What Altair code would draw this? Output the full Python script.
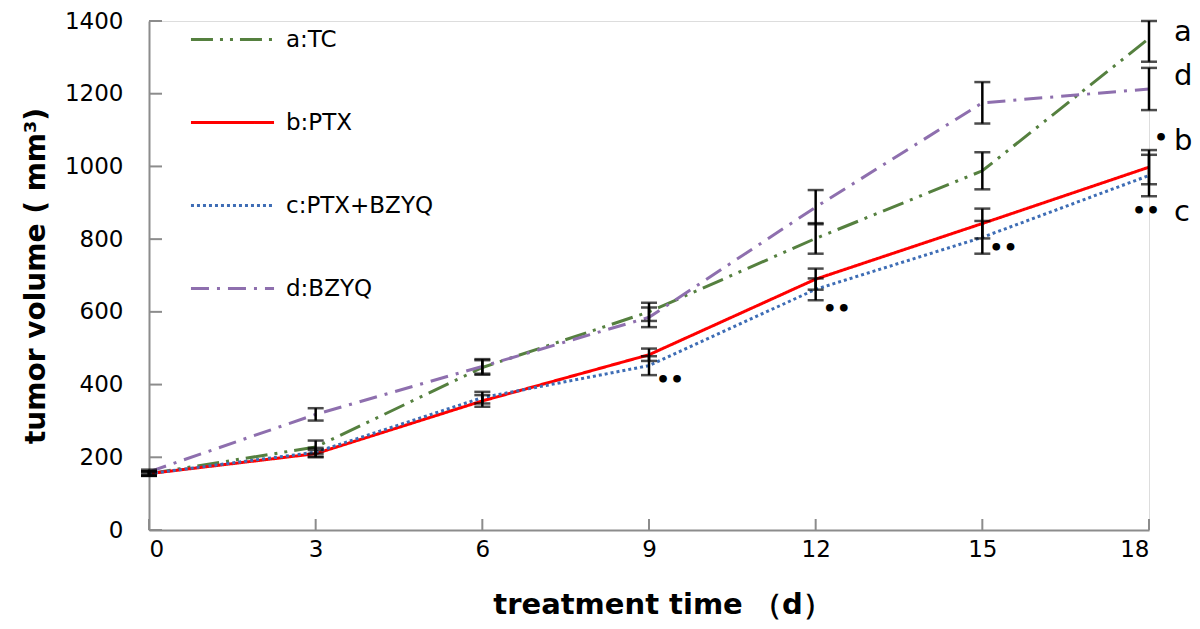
import altair as alt
import pandas as pd

days = [0, 3, 6, 9, 12, 15, 18]
series_names = ["a:TC", "b:PTX", "c:PTX+BZYQ", "d:BZYQ"]
tc_mean = [155, 228, 447, 600, 802, 988, 1352]
tc_err = [6, 18, 20, 25, 42, 51, 64]
ptx_mean = [155, 210, 355, 482, 690, 843, 998]
ptx_err = [6, 10, 16, 17, 29, 41, 47]
combo_mean = [155, 214, 364, 452, 662, 805, 975]
combo_err = [6, 12, 16, 26, 30, 45, 57]
bzyq_mean = [160, 318, 450, 585, 888, 1175, 1213]
bzyq_err = [6, 17, 20, 27, 47, 57, 58]

colors = ["#55803F", "#FF0000", "#3E6DB5", "#8E6FAE"]
dashes = [[22, 7, 3, 7, 3, 7], [1, 0], [3, 3], [18, 8, 3, 8]]

# significance marks (beside points, and centred at the last day) and end labels
sig_day = [9, 12, 15]
sig_val = [412, 609, 776]
sig_txt = ["••", "••", "••"]
sig_end_val = [877, 1077]
sig_end_txt = ["••", "•"]
sig_end_shift = [0, 12]
end_txt = ["a", "d", "b", "c"]
end_val = [1370, 1250, 1071, 875]

y_ticks = [0, 200, 400, 600, 800, 1000, 1200, 1400]
x_ticks = [0, 3, 6, 9, 12, 15, 18]

rows = []
for name, m, e in zip(series_names, [tc_mean, ptx_mean, combo_mean, bzyq_mean],
                      [tc_err, ptx_err, combo_err, bzyq_err]):
    for d, v, er in zip(days, m, e):
        rows.append({"day": d, "vol": v, "lo": v - er, "hi": min(v + er, 1400), "series": name})
df = pd.DataFrame(rows)

FONT = "DejaVu Sans"
W, H = 1000, 509

xs = alt.Scale(domain=[0, 18], nice=False)
ys = alt.Scale(domain=[0, 1400], nice=False)

base = alt.Chart(df)

leg = alt.Legend(title=None, orient="none", legendX=40, legendY=-25,
                 symbolType="stroke", symbolSize=6900, symbolStrokeWidth=3,
                 labelFont=FONT, labelFontSize=23, labelColor="black",
                 labelOffset=10, rowPadding=27, padding=0)

lines = base.mark_line(strokeWidth=3).encode(
    x=alt.X("day:Q", scale=xs, axis=alt.Axis(
        values=x_ticks, title="treatment time （d）", grid=False, ticks=False, tickSize=0,
        domainColor="#8C8C8C", domainWidth=2, labelFont=FONT, labelFontSize=23,
        labelColor="black", labelPadding=8, titleFont=FONT, titleFontSize=29,
        titleFontWeight="bold", titlePadding=29, titleColor="black", titleX=513)),
    y=alt.Y("vol:Q", scale=ys, axis=alt.Axis(
        values=y_ticks, format="d", title="tumor volume ( mm³)", grid=False, ticks=False,
        tickSize=0, domainColor="#8C8C8C", domainWidth=2, labelFont=FONT, labelFontSize=23,
        labelColor="black", labelPadding=26, titleFont=FONT, titleFontSize=28,
        titleFontWeight="bold", titlePadding=14, titleColor="black")),
    color=alt.Color("series:N", scale=alt.Scale(domain=series_names, range=colors), legend=leg),
    strokeDash=alt.StrokeDash("series:N", scale=alt.Scale(domain=series_names, range=dashes),
                              legend=leg),
    order=alt.Order("day:Q"),
)

bars = base.mark_rule(color="black", strokeWidth=2.5).encode(
    x="day:Q", y="lo:Q", y2="hi:Q")
cap_lo = base.mark_tick(color="black", orient="horizontal", size=16, thickness=2.5).encode(
    x="day:Q", y="lo:Q")
cap_hi = base.mark_tick(color="black", orient="horizontal", size=16, thickness=2.5).encode(
    x="day:Q", y="hi:Q")

sig_df = pd.DataFrame({"day": sig_day, "vol": sig_val, "txt": sig_txt})
sig = alt.Chart(sig_df).mark_text(font=FONT, fontSize=22, fontWeight="bold", align="left",
                                  dx=7, baseline="middle", color="black").encode(
    x="day:Q", y="vol:Q", text="txt:N")

sig_end_c = alt.Chart(pd.DataFrame({"day": [18], "vol": [sig_end_val[0]], "txt": [sig_end_txt[0]]})
                      ).mark_text(font=FONT, fontSize=22, fontWeight="bold", align="center",
                                  dx=sig_end_shift[0] - 3, baseline="middle", color="black").encode(
    x="day:Q", y="vol:Q", text="txt:N")
sig_end_b = alt.Chart(pd.DataFrame({"day": [18], "vol": [sig_end_val[1]], "txt": [sig_end_txt[1]]})
                      ).mark_text(font=FONT, fontSize=22, fontWeight="bold", align="center",
                                  dx=sig_end_shift[1], baseline="middle", color="black").encode(
    x="day:Q", y="vol:Q", text="txt:N")

end_df = pd.DataFrame({"day": [18] * 4, "vol": end_val, "txt": end_txt})
ends = alt.Chart(end_df).mark_text(font=FONT, fontSize=29, align="left", dx=25,
                                   baseline="middle", color="black").encode(
    x="day:Q", y="vol:Q", text="txt:N")

yt = alt.Chart(pd.DataFrame({"v": y_ticks})).mark_rule(color="#8C8C8C", strokeWidth=2).encode(
    y="v:Q", x=alt.value(0), x2=alt.value(13))
xt = alt.Chart(pd.DataFrame({"v": x_ticks})).mark_rule(color="#8C8C8C", strokeWidth=2).encode(
    x="v:Q", y=alt.value(H), y2=alt.value(H - 11))

chart = alt.layer(yt, xt, lines, bars, cap_lo, cap_hi, sig, sig_end_c, sig_end_b, ends).properties(
    width=W, height=H,
    autosize=alt.AutoSizeParams(type="none"),
    padding={"left": 141, "top": 13, "right": 43, "bottom": 91},
).configure_view(stroke=None).configure(background="white")

chart.save("out.html", embed_options={"renderer": "svg", "actions": False})
